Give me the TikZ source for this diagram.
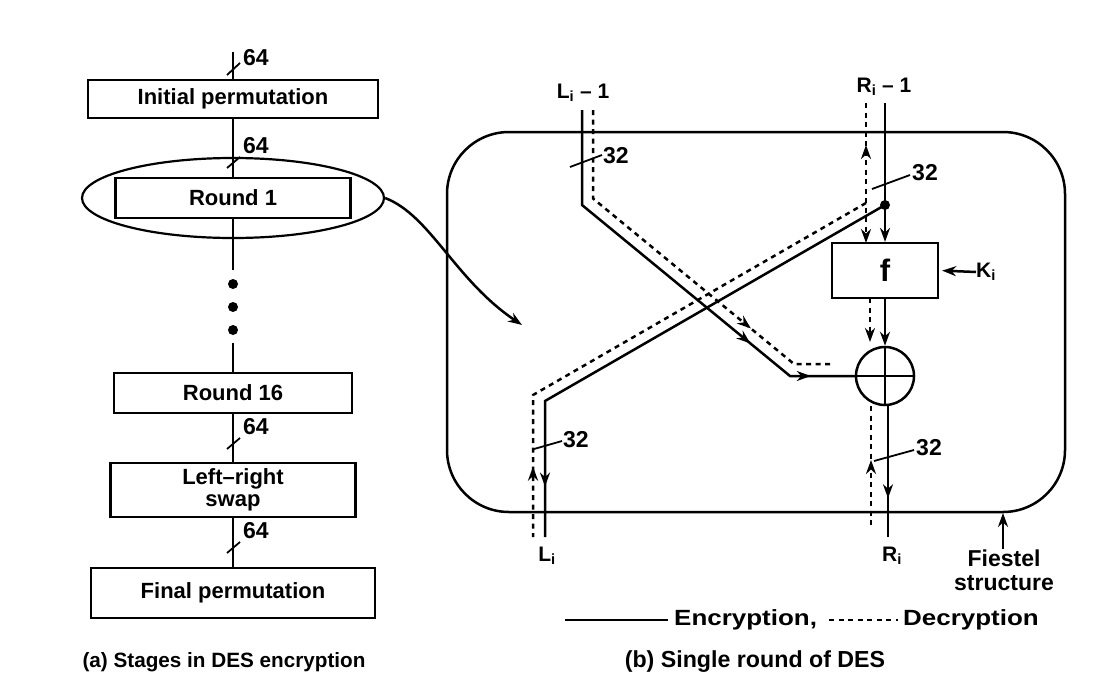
\documentclass[tikz,border=0pt]{standalone}
\usepackage{fontspec}
\setmainfont{Liberation Sans}
\newfontfamily\widefont{Liberation Sans}[FakeStretch=1.18]
\usetikzlibrary{arrows.meta,decorations.markings,shapes.geometric}
\tikzset{
  ln/.style={line width=2.5pt},
  dl/.style={line width=2.5pt, dash pattern=on 5pt off 4.5pt},
  blk/.style={draw, line width=2.2pt, inner sep=0pt, font=\fontsize{22}{26}\selectfont\bfseries},
  lbl/.style={inner sep=0pt, font=\fontsize{21}{25}\selectfont\bfseries},
  num/.style={inner sep=0pt, anchor=west, font=\fontsize{23}{27}\selectfont\bfseries},
  tip/.style={-{Stealth[length=14pt,width=10pt]}},
  marr/.style={postaction={decorate,decoration={markings,mark=at position #1 with {\arrow{Stealth[length=14pt,width=10pt]}}}}},
  rarr/.style={postaction={decorate,decoration={markings,mark=at position #1 with {\arrowreversed{Stealth[length=14pt,width=10pt]}}}}},
  tick/.style={line width=1.8pt},
  dotn/.style={circle, fill, inner sep=0pt, minimum size=10pt},
}
\begin{document}
\begin{tikzpicture}[x=1pt,y=-1pt]
\useasboundingbox[fill=white] (0,0) rectangle (1099,688);

% ---------------- (a) stages ----------------
\coordinate (top) at (233,52);
\node[blk, minimum width=290, minimum height=38] (ip) at (233,99) {Initial permutation};
\node[blk, minimum width=235, minimum height=40] (r1) at (233,198) {Round 1};
\node[draw, line width=2.2pt, ellipse, minimum width=302, minimum height=80, inner sep=0pt] (ell) at (233,198) {};
\coordinate (c1) at (233,270);
\node[dotn] (d1) at (233,284) {};
\node[dotn] (d2) at (233,307) {};
\node[dotn] (d3) at (233,330) {};
\coordinate (c2) at (233,343);
\node[blk, minimum width=238, minimum height=40] (r16) at (233,393) {Round 16};
\node[blk, minimum width=245, minimum height=54, align=center] (sw) at (233,490) {Left--right\\[-4pt]swap};
\node[blk, minimum width=284, minimum height=50] (fp) at (233,593) {Final permutation};

\draw[ln] (top) -- (ip.north);
\draw[ln] (ip.south) -- (r1.north);
\draw[ln] (r1.south) -- (c1);
\draw[ln] (c2) -- (r16.north);
\draw[ln] (r16.south) -- (sw.north);
\draw[ln] (sw.south) -- (fp.north);

\draw[tick] (227,75) -- (240,63);   \node[num] (n1) at (243,58) {64};
\draw[tick] (227,168) -- (240,157); \node[num] (n2) at (243,146) {64};
\draw[tick] (227,449) -- (240,438); \node[num] (n3) at (243,427) {64};
\draw[tick] (227,553) -- (240,542); \node[num] (n4) at (243,531) {64};

\node[lbl, font=\fontsize{20.7}{25}\selectfont\bfseries] (capa) at (224,662) {(a) Stages in DES encryption};

% ---------------- (b) single round ----------------
\draw[line width=2.5pt, rounded corners=62pt] (447,132) rectangle (1065,512);

\coordinate (arrowend) at (522,325);
\draw[ln,tip] (ell.east) .. controls (430,215) and (455,280) .. (arrowend);

\node[lbl] (lim) at (583,93) {L\textsubscript{i} -- 1};
\node[lbl] (rim) at (884,87) {R\textsubscript{i} -- 1};
\node[lbl] (li) at (547,556) {L\textsubscript{i}};
\node[lbl] (ri) at (892,556) {R\textsubscript{i}};

\node[blk, minimum width=106, minimum height=55, font=\fontsize{31}{34}\selectfont\bfseries] (f) at (885,270.5) {f};
\node[draw, circle, line width=2.5pt, minimum size=58pt, inner sep=0pt] (x) at (885,376) {};
\draw[line width=2.5pt] (x.north) -- (x.south) (x.west) -- (x.east);

\node[lbl, anchor=west] (ki) at (976,272) {K\textsubscript{i}};
\draw[ln,tip,shorten >=3pt] (ki.west) -- (f.east);

% solid (encryption) paths
\coordinate (ltop) at (582,110);
\coordinate (lb1) at (582,205);
\coordinate (lb2) at (790,376);
\draw[ln, marr=313pt, marr=385pt] (ltop) -- (lb1) -- (lb2) -- (x.west);

\coordinate (rtop) at (885,103);
\draw[ln,tip] (rtop) -- (f.north);
\node[dotn] (dot) at (885,205) {};
\coordinate (rb2) at (545,401);
\coordinate (lbot) at (545,537);
\draw[ln, marr=478pt] (dot.center) -- (rb2) -- (lbot);

\draw[ln,tip] (f.south) -- (x.north);
\coordinate (rbot) at (888,537);
\draw[ln, marr=92pt] (x.south -| rbot) -- (rbot);

% dashed (decryption) paths
\coordinate (ldt) at (593,110);
\coordinate (ldb1) at (593,198.5);
\coordinate (ldb2) at (794,364);
\coordinate (ldend) at (834,364);
\draw[dl, marr=293pt] (ldt) -- (ldb1) -- (ldb2) -- (ldend);

\coordinate (rdt) at (866,103);
\coordinate (rdf) at (866,243);
\draw[dl, tip, rarr=42pt] (rdt) -- (rdf);
\coordinate (rdj) at (866,203);
\coordinate (rdb2) at (533,395);
\coordinate (ldbot) at (533,537);
\draw[dl, rarr=456pt] (rdj) -- (rdb2) -- (ldbot);

\coordinate (fdt) at (870,298);
\coordinate (fdb) at (870,342);
\draw[dl, tip] (fdt) -- (fdb);
\coordinate (xdt) at (871,406);
\coordinate (xdb) at (871,527);
\draw[dl, rarr=54pt] (xdt) -- (xdb);

% 32 labels
\draw[tick] (570,167) -- (602,155);   \node[num] (t1) at (603,156) {32};
\draw[tick] (872,189) -- (910,175);   \node[num] (t2) at (912,173) {32};
\draw[tick] (534,449) -- (562,441);   \node[num] (t3) at (563,440) {32};
\draw[tick] (874,461) -- (914,450);   \node[num] (t4) at (916,448) {32};

% Fiestel structure
\node[lbl, align=center, font=\fontsize{23}{27}\selectfont\bfseries] (fs) at (1004,570) {Fiestel\\[-3pt]structure};
\coordinate (fsb) at (1003,513);
\draw[ln,tip] (fs.north -| fsb) -- (fsb);

% legend
\coordinate (lg1) at (565,620);
\coordinate (lg2) at (668,620);
\draw[ln] (lg1) -- (lg2);
\node[inner sep=0pt, anchor=west, font=\fontsize{22}{26}\widefont\bfseries] (enc) at (674,620) {Encryption,};
\coordinate (lg3) at (829,620);
\coordinate (lg4) at (898,620);
\draw[dl] (lg3) -- (lg4);
\node[inner sep=0pt, anchor=west, font=\fontsize{22}{26}\widefont\bfseries] (dec) at (903,620) {Decryption};

\node[lbl, font=\fontsize{23.2}{28}\selectfont\bfseries] (capb) at (755,662) {(b) Single round of DES};
\end{tikzpicture}
\end{document}
